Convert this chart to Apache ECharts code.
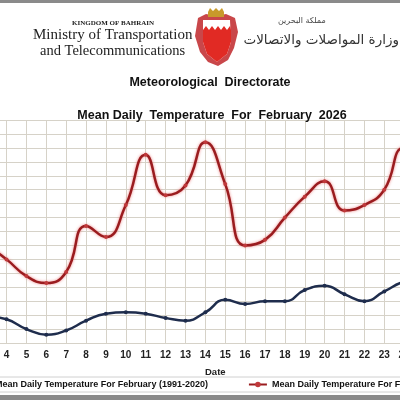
<!DOCTYPE html>
<html><head><meta charset="utf-8">
<script src="https://cdn.jsdelivr.net/npm/echarts@6/dist/echarts.min.js"></script>
<style>html,body{margin:0;padding:0;background:#fff}#c{width:400px;height:400px}</style>
</head><body><div id="c"></div>
<script>
var days = ['1','2','3','4','5','6','7','8','9','10','11','12','13','14','15','16','17','18','19','20','21','22','23','24','25','26','27','28'];
var mean2026 = [20.0,19.8,19.5,19.0,18.4,18.15,18.55,20.2,19.8,20.95,22.75,21.3,21.65,23.2,21.7,19.5,19.7,20.5,21.25,21.8,20.75,20.95,21.5,23.0,22.5,21.8,22.2,22.9];
var normal = [16.9,17.0,16.95,16.85,16.5,16.3,16.45,16.8,17.05,17.1,17.05,16.9,16.8,17.1,17.55,17.4,17.5,17.5,17.9,18.05,17.75,17.5,17.85,18.2,18.3,18.4,18.5,18.6];
var nameNormal = 'Mean Daily Temperature For February (1991-2020)';
var name2026 = 'Mean Daily Temperature For February 2026';

var chart = echarts.init(document.getElementById('c'), null, {renderer:'canvas'});
var sans = 'Liberation Sans, Arial, sans-serif';
var serif = 'Liberation Serif, Times New Roman, serif';
chart.setOption({
  animation:false,
  backgroundColor:'#ffffff',
  title:[
    {text:'Meteorological  Directorate', left:205, top:71, textAlign:'center',
     textStyle:{fontFamily:sans, fontSize:12.5, fontWeight:'bold', color:'#111'}},
    {text:'Mean Daily  Temperature  For  February  2026', left:207, top:104, textAlign:'center',
     textStyle:{fontFamily:sans, fontSize:12.5, fontWeight:'bold', color:'#111'}}
  ],
  grid:{left:-53.1, right:-83.7, top:120, bottom:57, containLabel:false, outerBoundsMode:'none'},
  legend:{
    data:[nameNormal, name2026], left:-35, top:377, width:1200, itemGap:40, itemWidth:18, itemHeight:7,
    padding:[3,6,3,6], borderColor:'#d0d0d0', borderWidth:1,
    textStyle:{fontFamily:sans, fontSize:9, fontWeight:'bold', color:'#111'}
  },
  xAxis:{
    type:'category', data:days, boundaryGap:false,
    name:'Date', nameLocation:'middle', nameGap:24,
    nameTextStyle:{fontFamily:sans, fontSize:9.5, fontWeight:'bold', color:'#222'},
    axisLine:{show:true, lineStyle:{color:'#d6d2c8'}}, axisTick:{show:false},
    axisLabel:{fontFamily:sans, fontSize:10, fontWeight:'bold', color:'#222', margin:7, interval:0},
    splitLine:{show:true, lineStyle:{color:'#d6d2c8', width:1}}
  },
  yAxis:{
    type:'value', min:16, max:24, interval:0.5,
    axisLabel:{show:false}, axisLine:{show:false}, axisTick:{show:false},
    splitLine:{show:true, lineStyle:{color:'#d6d2c8', width:1}}
  },
  series:[
    {name:nameNormal, type:'line', data:normal, smooth:0.5,
     symbol:'circle', symbolSize:4, showSymbol:true,
     lineStyle:{color:'#1f2d4d', width:2.5},
     itemStyle:{color:'#1f2d4d'}},
    {name:name2026, type:'line', data:mean2026, smooth:0.5,
     symbol:'circle', symbolSize:4, showSymbol:true,
     lineStyle:{color:'#9a1c1f', width:2.5, shadowColor:'rgba(235,120,120,0.9)', shadowBlur:3},
     itemStyle:{color:'#c0393b'}}
  ],
  graphic:[
    {type:'rect', shape:{x:0,y:0,width:400,height:3}, style:{fill:'#8a8a8a'}},
    {type:'rect', shape:{x:0,y:395,width:400,height:5}, style:{fill:'#8a8a8a'}},
    {type:'text', left:72, top:20, style:{text:'KINGDOM OF BAHRAIN', font:'bold 7px '+serif, fill:'#222'}},
    {type:'text', left:33, top:28, style:{text:'Ministry of Transportation', font:'15px '+serif, fill:'#222'}},
    {type:'text', left:40, top:44, style:{text:'and Telecommunications', font:'14.5px '+serif, fill:'#222'}},
    {type:'text', right:1, top:33, style:{text:'وزارة المواصلات والاتصالات', font:'13.5px DejaVu Sans, Noto Sans, sans-serif', fill:'#333'}},
    {type:'text', left:278, top:17, style:{text:'مملكة البحرين', font:'8px DejaVu Sans, sans-serif', fill:'#444'}},
    {type:'group', left:195, top:8, children:[
      {type:'polygon', shape:{points:[[4,10],[12,6],[22,8],[32,6],[41,10],[44,24],[40,40],[34,52],[24,58],[14,54],[6,44],[1,28]]}, style:{fill:'#c9474a'}},
      {type:'polygon', shape:{points:[[9,12],[36,12],[37,34],[33,46],[23,54],[13,46],[9,34]]}, style:{fill:'#ffffff'}},
      {type:'polygon', shape:{points:[[9,22],[12,18],[15,22],[18,18],[21,22],[24,18],[27,22],[30,18],[33,22],[36,18],[37,22],[37,34],[33,46],[23,54],[13,46],[9,34]]}, style:{fill:'#e12a24'}},
      {type:'polygon', shape:{points:[[14,4],[16,0],[19,3],[22,0],[25,3],[28,0],[30,4],[30,9],[14,9]]}, style:{fill:'#c89a2a'}}
    ]}
  ]
});
</script></body></html>
